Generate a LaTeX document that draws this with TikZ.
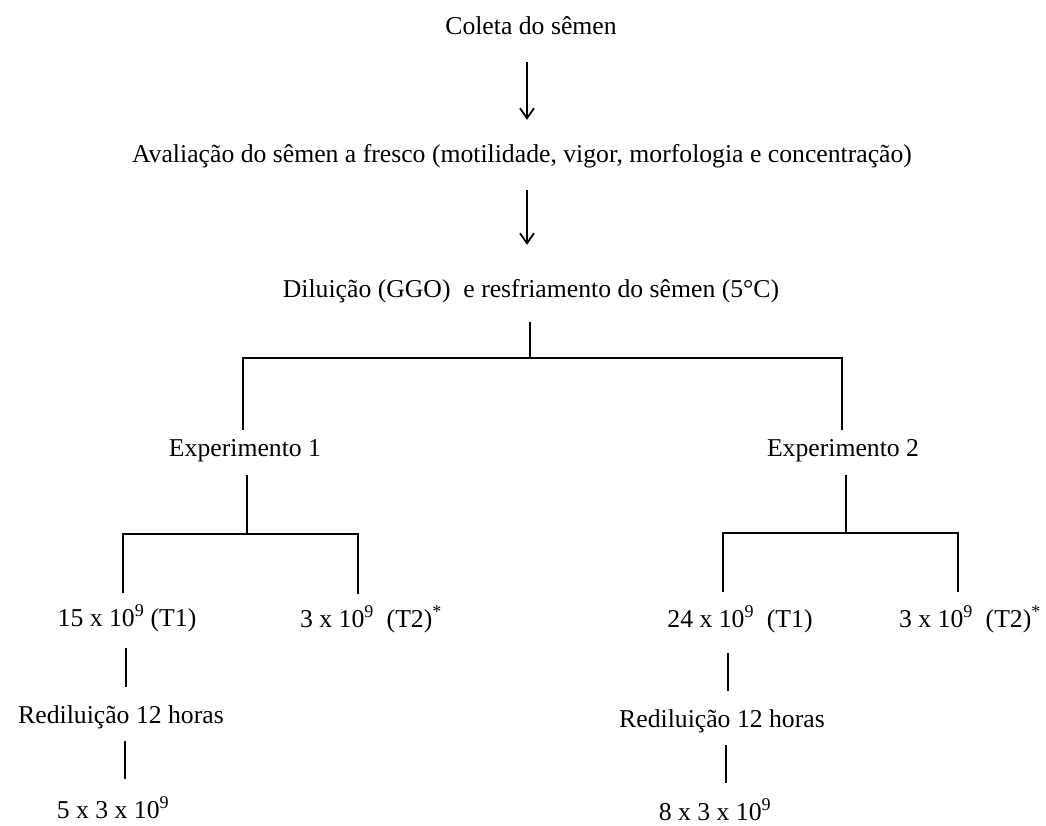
\documentclass[tikz,border=0pt]{standalone}
\usepackage{fontspec}
\setmainfont{Liberation Serif}
\usetikzlibrary{arrows.meta}
\begin{document}
\begin{tikzpicture}[x=1pt,y=-1pt,
  lbl/.style={font=\fontsize{25.7}{30}\selectfont, inner sep=0pt, text height=18pt, text depth=6pt, anchor=base},
  arr/.style={line width=1.8pt, -{Straight Barb[length=10pt,width=14pt,line width=1.8pt]}},
  link/.style={line width=1.8pt}]
\useasboundingbox (0,0) rectangle (1046,826);
\node[lbl] (coleta) at (531,35) {Coleta do sêmen};
\node[lbl] (aval) at (522,163) {Avaliação do sêmen a fresco (motilidade, vigor, morfologia e concentração)};
\node[lbl] (dil) at (531,298) {Diluição (GGO)\ \ e resfriamento do sêmen (5°C)};
\node[lbl] (exp1) at (245,456) {Experimento 1};
\node[lbl] (exp2) at (843,456) {Experimento 2};
\node[lbl] (t11) at (127,626) {15 x 10\textsuperscript{9} (T1)};
\node[lbl] (t12) at (371,627) {3 x 10\textsuperscript{9}\ \ (T2)\textsuperscript{*}};
\node[lbl] (t21) at (740,627) {24 x 10\textsuperscript{9}\ \ (T1)};
\node[lbl] (t22) at (970,627) {3 x 10\textsuperscript{9}\ \ (T2)\textsuperscript{*}};
\node[lbl] (red1) at (121,723) {Rediluição 12 horas};
\node[lbl] (red2) at (722,727) {Rediluição 12 horas};
\node[lbl] (r1) at (113,818) {5 x 3 x 10\textsuperscript{9}};
\node[lbl] (r2) at (715,820) {8 x 3 x 10\textsuperscript{9}};
\coordinate (j0) at (530,358);
\coordinate (j1) at (247,534);
\coordinate (j2) at (846,533);
% arrows
\draw[arr, shorten <=21pt, shorten >=25pt] ([xshift=-4pt]coleta.south) -- ([xshift=-4pt]coleta.south |- aval.north);
\draw[arr, shorten <=21pt, shorten >=35pt] ([xshift=5pt]aval.south) -- ([xshift=5pt]aval.south |- dil.north);
% main split
\draw[link, shorten <=18pt] ([xshift=-1pt]dil.south) -- (j0);
\draw[link, shorten <=8pt, shorten >=8pt] ([xshift=-2pt]exp1.north) |- (j0) -| ([xshift=-1pt]exp2.north);
% experiment 1
\draw[link, shorten <=13pt] ([xshift=2pt]exp1.south) -- (j1);
\draw[link, shorten <=15pt, shorten >=15pt] ([xshift=-4pt]t11.north) |- (j1) -| ([xshift=-13pt]t12.north);
\draw[link, shorten <=16pt, shorten >=18pt] ([xshift=-1pt]t11.south) -- ([xshift=-1pt]t11.south |- red1.north);
\draw[link, shorten <=12pt, shorten >=21pt] ([xshift=4pt]red1.south) -- ([xshift=4pt]red1.south |- r1.north);
% experiment 2
\draw[link, shorten <=13pt] ([xshift=3pt]exp2.south) -- (j2);
\draw[link, shorten <=17pt, shorten >=17pt] ([xshift=-17pt]t21.north) |- (j2) -| ([xshift=-12pt]t22.north);
\draw[link, shorten <=20pt, shorten >=18pt] ([xshift=-12pt]t21.south) -- ([xshift=-12pt]t21.south |- red2.north);
\draw[link, shorten <=12pt, shorten >=19pt] ([xshift=4pt]red2.south) -- ([xshift=4pt]red2.south |- r2.north);
\end{tikzpicture}
\end{document}
